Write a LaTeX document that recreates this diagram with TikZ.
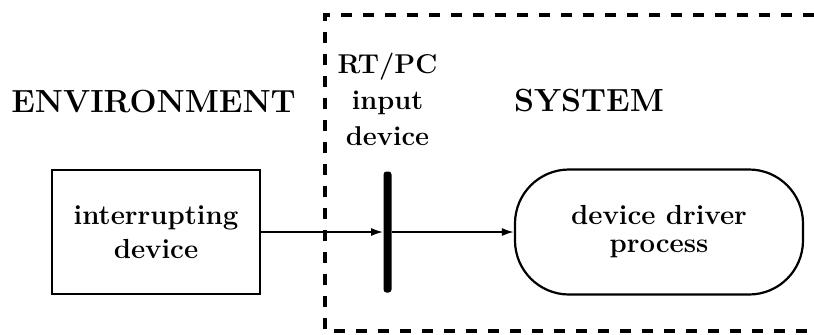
\documentclass[tikz,border=0pt]{standalone}
\usepackage{fontspec}
\usepackage{tikz}
\usetikzlibrary{arrows.meta, positioning}

\begin{document}
\begin{tikzpicture}[
    x=0.5pt, y=-0.5pt,
    every node/.style={align=center, inner sep=0pt},
    box/.style={draw, line width=1pt, minimum width=104pt, minimum height=62pt, font=\bfseries\fontsize{13.8}{17}\selectfont},
    pill/.style={draw, line width=1.1pt, rounded corners=27pt, minimum width=144pt, minimum height=62.5pt, font=\bfseries\fontsize{13.8}{14}\selectfont},
    heading/.style={font=\bfseries\fontsize{16}{18}\selectfont},
    label/.style={font=\bfseries\fontsize{13.6}{18}\selectfont},
    arrow/.style={-{Latex[length=6pt, width=4pt]}, line width=0.9pt},
    boundary/.style={dash pattern=on 5.5pt off 5.5pt, line width=1.6pt}
]
\useasboundingbox (0,0) rectangle (814,334);
\node (env) [heading, anchor=base] at (153.5,112) {ENVIRONMENT};
\node (sys) [heading, anchor=base] at (589,111) {SYSTEM};
\node (intr) [box] at (156,232) {interrupting\\device};
\node (bar) [fill, minimum width=4pt, minimum height=60.5pt, rounded corners=1.5pt] at (387.5,232) {};
\node (rtpc) [label, above=12.5pt of bar] {RT/PC\\input\\device};
\node (drv) [pill] at (659,232) {device driver\\process};
\draw[arrow] (intr) -- (bar);
\draw[arrow] (bar) -- (drv);
\draw[boundary] (814,15) -- (325,15) -- (325,331) -- (814,331);
\end{tikzpicture}
\end{document}
